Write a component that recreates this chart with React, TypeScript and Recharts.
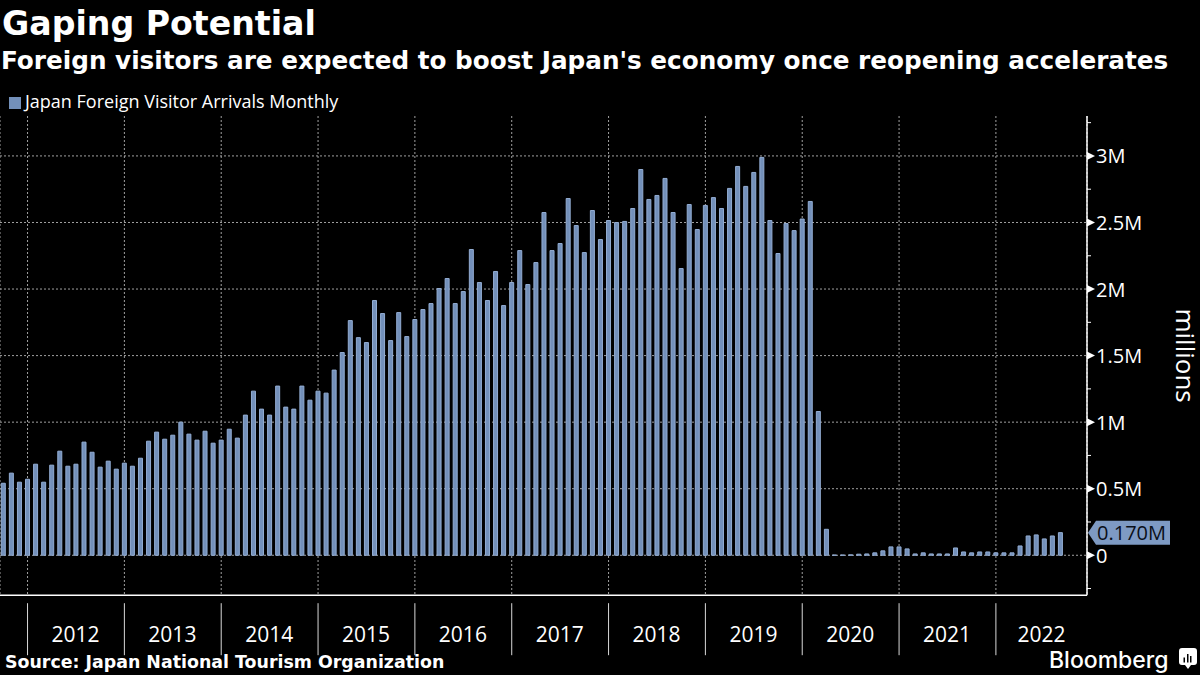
import React from 'react';
import { Bar, BarChart, CartesianGrid, Legend, ReferenceLine, XAxis, YAxis } from 'recharts';

const years = ['2011', '2012', '2013', '2014', '2015', '2016', '2017', '2018', '2019', '2020', '2021', '2022', '2023'];
const months = ['01', '02', '03', '04', '05', '06', '07', '08', '09', '10', '11', '12'];

// millions of arrivals, Oct 2011 to Sep 2022
const arrivals = [
  0.541, 0.617, 0.549,
  0.571, 0.684, 0.549, 0.677, 0.782, 0.669, 0.684, 0.85, 0.774, 0.662, 0.707, 0.647,
  0.692, 0.669, 0.729, 0.857, 0.925, 0.872, 0.902, 1.0, 0.91, 0.865, 0.932, 0.842,
  0.865, 0.947, 0.88, 1.053, 1.233, 1.098, 1.053, 1.271, 1.113, 1.098, 1.271, 1.165,
  1.233, 1.218, 1.391, 1.523, 1.763, 1.635, 1.598, 1.914, 1.816, 1.613, 1.823, 1.643,
  1.771, 1.846, 1.891, 2.004, 2.079, 1.891, 1.981, 2.297, 2.049, 1.914, 2.132, 1.876,
  2.049, 2.289, 2.034, 2.199, 2.575, 2.289, 2.342, 2.68, 2.477, 2.274, 2.59, 2.372,
  2.515, 2.5, 2.508, 2.605, 2.898, 2.673, 2.703, 2.831, 2.575, 2.154, 2.635, 2.447,
  2.628, 2.687, 2.605, 2.756, 2.921, 2.771, 2.876, 2.989, 2.515, 2.267, 2.492, 2.439,
  2.526, 2.658, 1.08, 0.195, 0.002, 0.002, 0.003, 0.008, 0.01, 0.018, 0.033, 0.063,
  0.063, 0.048, 0.01, 0.018, 0.01, 0.01, 0.01, 0.055, 0.025, 0.018, 0.025, 0.025,
  0.018, 0.018, 0.018, 0.07, 0.145, 0.153, 0.123, 0.145, 0.17,
];

const categories = years.flatMap((y) => months.map((m) => `${y}-${m}`)).slice(9, 144);
const chartData = categories.map((month, i) => ({ month, arrivals: arrivals[i] ?? null }));

const yearTicks = ['2012', '2013', '2014', '2015', '2016', '2017', '2018', '2019', '2020', '2021', '2022'].map((y) => `${y}-01`);
const majorTicks = [0, 0.5, 1, 1.5, 2, 2.5, 3];
const allTicks = [-0.25, 0, 0.25, 0.5, 0.75, 1, 1.25, 1.5, 1.75, 2, 2.25, 2.5, 2.75, 3, 3.25];
const lastLabel = '0.170M';

const SANS = '"Open Sans", sans-serif';
const HEAVY = '"DejaVu Sans", sans-serif';
const BAR = '#7390ba';

const YearTick = ({ x, y, payload }: any) => {
  const year = payload.value.slice(0, 4);
  return (
    <g>
      <line x1={x} x2={x} y1={y} y2={y + 52} stroke="#d8d8d8" strokeWidth={1} />
      <text x={x + (year === '2022' ? 45.5 : 48)} y={y + 46} dy={-7} fill="#fff" fontFamily={SANS} fontSize={21} textAnchor="middle">
        {year}
      </text>
    </g>
  );
};

const ValueTick = ({ x, y, payload }: any) => {
  const v = payload.value;
  if (!majorTicks.includes(v)) {
    return <line x1={x} x2={x + 4} y1={y} y2={y} stroke="#fff" strokeWidth={1} />;
  }
  return (
    <g>
      <path d={`M${x} ${y - 4}L${x + 8} ${y}L${x} ${y + 4}Z`} fill="#fff" />
      <text x={x + 9} y={y + 7.5} fill="#fff" fontFamily={SANS} fontSize={20}>
        {v === 0 ? '0' : `${v}M`}
      </text>
    </g>
  );
};

const LastTag = ({ viewBox }: any) => {
  const x = viewBox.x + viewBox.width + 1;
  const y = viewBox.y;
  return (
    <g>
      <path d={`M${x} ${y}L${x + 8} ${y - 12}H${x + 82}V${y + 12}H${x + 8}Z`} fill="#7e9ac3" />
      <text x={x + 9} y={y + 7.5} fill="#0a0f18" fontFamily={SANS} fontSize={20}>
        {lastLabel}
      </text>
    </g>
  );
};

const LogoMark = () => (
  <svg width={18} height={22} style={{ position: 'absolute', left: 1179, top: 648 }}>
    <path d="M3 0H15Q18 0 18 3V14Q18 17 15 17H12L9 21L6 17H3Q0 17 0 14V3Q0 0 3 0Z" fill="#fff" />
    <path d="M4.5 9.5h1.5v5h-1.5zM8 6h1.5v8.5h-1.5zM11 8h1.5v6.5h-1.5z" fill="#000" />
  </svg>
);

const text = (left: number, top: number, size: number, family: string, weight: number, extra = {}) =>
  ({ position: 'absolute', left, top, fontSize: size, fontFamily: family, fontWeight: weight, color: '#fff', whiteSpace: 'nowrap', lineHeight: 1, ...extra }) as React.CSSProperties;

export default function App() {
  return (
    <div style={{ position: 'absolute', left: 0, top: 0, width: 1200, height: 675, background: '#000', overflow: 'hidden' }}>
      <div style={text(2, 7, 33.2, HEAVY, 700)}>Gaping Potential</div>
      <div style={text(1, 49, 24.7, HEAVY, 700)}>Foreign visitors are expected to boost Japan's economy once reopening accelerates</div>
      <div style={text(5, 654, 17.4, HEAVY, 700)}>Source: Japan National Tourism Organization</div>
      <div style={text(1049, 649, 23, '"Inter", sans-serif', 500)}>Bloomberg</div>
      <LogoMark />
      <BarChart
        width={1200}
        height={675}
        data={chartData}
        margin={{ top: 92, right: 0, bottom: 27.8, left: 0 }}
        barSize={4}
      >
        <CartesianGrid
          stroke="#a0a0a0"
          strokeDasharray="2 2"
          horizontalValues={majorTicks}
        />
        <XAxis
          dataKey="month"
          ticks={yearTicks}
          interval={0}
          height={52}
          padding={{ left: -0.7, right: -1.7 }}
          axisLine={{ stroke: '#fff', strokeWidth: 1.5 }}
          tickLine={false}
          tick={<YearTick />}
        />
        <YAxis
          orientation="right"
          width={113}
          domain={[-0.3, 3.3]}
          ticks={allTicks}
          interval={0}
          allowDataOverflow
          axisLine={{ stroke: '#fff', strokeWidth: 1.5 }}
          tickLine={false}
          tickSize={0}
          tickMargin={0}
          tick={<ValueTick />}
          label={{ value: 'millions', angle: 90, position: 'insideRight', offset: 15, textAnchor: 'middle', fill: '#fff', fontFamily: SANS, fontSize: 26 }}
        />
        <Legend
          verticalAlign="top"
          align="left"
          iconType="square"
          iconSize={12}
          wrapperStyle={{ left: 9, top: 89, width: 'auto', fontFamily: SANS, fontSize: 18 }}
          formatter={(value) => <span style={{ color: '#fff' }}>{value}</span>}
        />
        <Bar
          dataKey="arrivals"
          name="Japan Foreign Visitor Arrivals Monthly"
          fill={BAR}
          stroke="#93add3"
          strokeWidth={1}
          isAnimationActive={false}
        />
        <ReferenceLine y={arrivals[arrivals.length - 1]} stroke="none" label={<LastTag />} />
      </BarChart>
    </div>
  );
}
